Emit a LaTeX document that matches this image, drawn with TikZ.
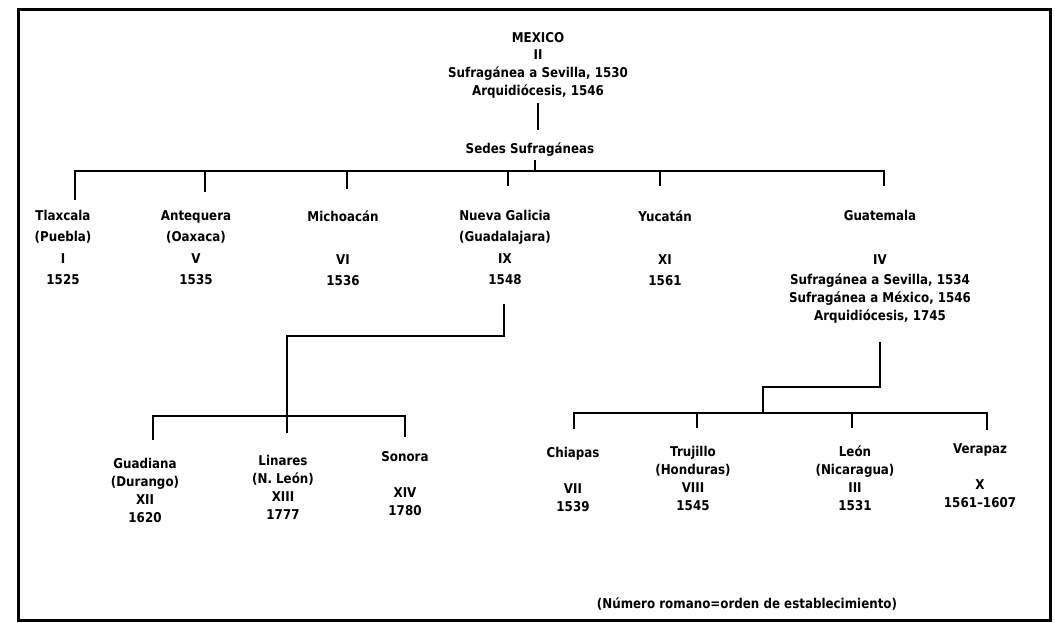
\documentclass[tikz,border=0pt]{standalone}
\usepackage{fontspec}
\setmainfont[FakeStretch=0.88]{DejaVu Sans}
\begin{document}
\begin{tikzpicture}[x=1pt,y=-1pt]
\tikzstyle{sede}=[align=center, inner sep=0pt, anchor=north, font=\fontsize{13.5}{21.5}\selectfont\bfseries]
\tikzstyle{sufra}=[sede, font=\fontsize{13.5}{18}\selectfont\bfseries]
\tikzstyle{metro}=[sede, font=\fontsize{13.5}{17.6}\selectfont\bfseries]
\tikzstyle{link}=[line width=2.2pt]
\tikzstyle{frame}=[line width=3pt]

\useasboundingbox (0,0) rectangle (1055,622);

\coordinate (f_nw) at (18,9);
\coordinate (f_se) at (1050,620);

\coordinate (mexico) at (538,32);
\coordinate (sedes) at (530,142);

\coordinate (tlaxcala) at (63,210);
\coordinate (antequera) at (196,210);
\coordinate (michoacan) at (343,210);
\coordinate (galicia) at (505,210);
\coordinate (yucatan) at (665,210);
\coordinate (guatemala) at (880,210);

\coordinate (guadiana) at (145,458);
\coordinate (linares) at (283,455);
\coordinate (sonora) at (405,451);

\coordinate (chiapas) at (573,447);
\coordinate (trujillo) at (693,446);
\coordinate (leon) at (855,445);
\coordinate (verapaz) at (980,443);

\coordinate (nota) at (747,597);

\coordinate (m_a) at (538,103);
\coordinate (m_b) at (538,130);
\coordinate (s_a) at (535,160);
\coordinate (s_b) at (535,171);

\coordinate (b_1) at (75,171);
\coordinate (b_2) at (205,171);
\coordinate (b_3) at (347,171);
\coordinate (b_4) at (508,171);
\coordinate (b_5) at (660,171);
\coordinate (b_6) at (884,171);
\coordinate (d_1) at (75,200);
\coordinate (d_2) at (205,192);
\coordinate (d_3) at (347,189);
\coordinate (d_4) at (508,186);
\coordinate (d_5) at (660,186);
\coordinate (d_6) at (884,186);

\coordinate (g_a) at (504,304);
\coordinate (g_b) at (504,336);
\coordinate (g_c) at (287,336);
\coordinate (g_d) at (287,433);
\coordinate (l_1) at (153,416);
\coordinate (l_3) at (405,416);
\coordinate (e_1) at (153,440);
\coordinate (e_3) at (405,437);

\coordinate (t_a) at (880,342);
\coordinate (t_b) at (880,387);
\coordinate (t_c) at (763,387);
\coordinate (t_d) at (763,413);
\coordinate (r_1) at (574,413);
\coordinate (r_2) at (697,413);
\coordinate (r_3) at (852,413);
\coordinate (r_4) at (987,413);
\coordinate (f_1) at (574,429);
\coordinate (f_2) at (697,428);
\coordinate (f_3) at (852,428);
\coordinate (f_4) at (987,430);


\node[metro] (mexico) at (mexico) {MEXICO\\ II\\ Sufragánea a Sevilla, 1530\\ Arquidiócesis, 1546};
\node[sede] (sedes) at (sedes) {Sedes Sufragáneas};

\node[sede] (tlaxcala) at (tlaxcala) {Tlaxcala\\ (Puebla)\\ I\\ 1525};
\node[sede] (antequera) at (antequera) {Antequera\\ (Oaxaca)\\ V\\ 1535};
\node[sede] (michoacan) at (michoacan) {Michoacán\\ \\ VI\\ 1536};
\node[sede] (galicia) at (galicia) {Nueva Galicia\\ (Guadalajara)\\ IX\\ 1548};
\node[sede] (yucatan) at (yucatan) {Yucatán\\ \\ XI\\ 1561};
\node[sufra] (guatemala) at (guatemala) {Guatemala\\[26pt] IV\\[2pt] Sufragánea a Sevilla, 1534\\ Sufragánea a México, 1546\\ Arquidiócesis, 1745};

\node[sufra] (guadiana) at (guadiana) {Guadiana\\ (Durango)\\ XII\\ 1620};
\node[sufra] (linares) at (linares) {Linares\\ (N. León)\\ XIII\\ 1777};
\node[sufra] (sonora) at (sonora) {Sonora\\ \\ XIV\\ 1780};

\node[sufra] (chiapas) at (chiapas) {Chiapas\\ \\ VII\\ 1539};
\node[sufra] (trujillo) at (trujillo) {Trujillo\\ (Honduras)\\ VIII\\ 1545};
\node[sufra] (leon) at (leon) {León\\ (Nicaragua)\\ III\\ 1531};
\node[sufra] (verapaz) at (verapaz) {Verapaz\\ \\ X\\ 1561--1607};

\node[sede] (nota) at (nota) {(Número romano=orden de establecimiento)};

\draw[frame] (f_nw) rectangle (f_se);

\draw[link] (m_a) -- (m_b);
\draw[link] (s_a) -- (s_b);

\draw[link] (d_1) -- (b_1) -- (b_6) -- (d_6);
\draw[link] (b_2) -- (d_2);
\draw[link] (b_3) -- (d_3);
\draw[link] (b_4) -- (d_4);
\draw[link] (b_5) -- (d_5);

\draw[link] (g_a) -- (g_b) -- (g_c) -- (g_d);
\draw[link] (e_1) -- (l_1) -- (l_3) -- (e_3);

\draw[link] (t_a) -- (t_b) -- (t_c) -- (t_d);
\draw[link] (f_1) -- (r_1) -- (r_4) -- (f_4);
\draw[link] (r_2) -- (f_2);
\draw[link] (r_3) -- (f_3);

\end{tikzpicture}
\end{document}
